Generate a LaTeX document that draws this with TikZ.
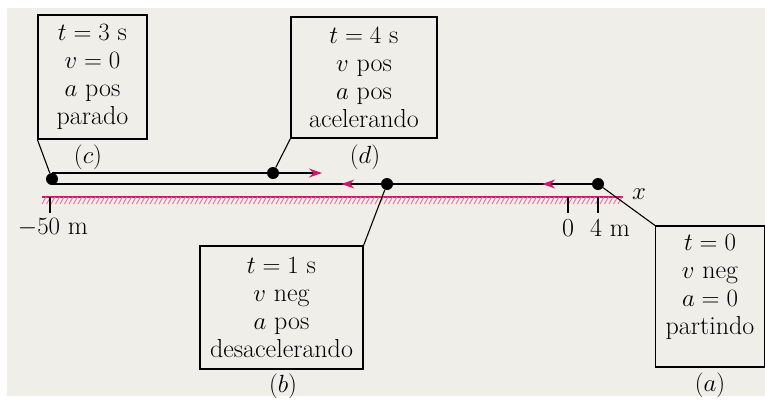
\documentclass[tikz,border=0pt]{standalone}
\usepackage{amsmath}
\usepackage{xcolor}
\usepackage{tikz}
\usetikzlibrary{positioning, arrows.meta, decorations.markings}

\definecolor{panelbg}{RGB}{240,238,232}
\definecolor{axismag}{RGB}{206,24,112}
\definecolor{hatchmag}{RGB}{232,112,162}

\tikzset{
  infobox/.style={draw, line width=1.2pt, align=center, inner sep=0pt},
  particle/.style={circle, fill=black, inner sep=0pt, minimum size=12pt},
  track/.style={line width=1.1pt},
  lead/.style={line width=1.1pt},
  magtip/.style={-{Stealth[color=axismag, length=13pt, width=9pt]}},
  midtip/.style={postaction={decorate, decoration={markings,
      mark=at position #1 with {\arrow{Stealth[color=axismag, length=13pt, width=9pt]}}}}},
}

\begin{document}
\begin{tikzpicture}[x=1pt, y=-1pt, font=\fontsize{26}{28}\selectfont]
\useasboundingbox (0,0) rectangle (765,410);
\fill[white] (0,0) rectangle (765,410);
\fill[panelbg] (7,8) rectangle (765,396);

% boxes
\node[infobox, minimum width=109pt, minimum height=124pt] (boxc) at (92.5,77) {$t=3$ s\\ $v=0$\\ $a$ pos\\ parado};
\node[infobox, minimum width=146pt, minimum height=121pt] (boxd) at (364,77.5) {$t=4$ s\\ $v$ pos\\ $a$ pos\\ acelerando};
\node[infobox, minimum width=163pt, minimum height=123pt] (boxb) at (281.5,307.5) {$t=1$ s\\ $v$ neg\\ $a$ pos\\ desacelerando};
\node[infobox, minimum width=109pt, minimum height=141pt, text depth=24pt] (boxa) at (710,296.5) {$t=0$\\ $v$ neg\\ $a=0$\\ partindo};

\node (labc) at (88,157) {$(c)$};
\node (labd) at (365,157) {$(d)$};
\node (labb) at (283,386) {$(b)$};
\node (laba) at (710,385) {$(a)$};

% axis
\draw[axismag, line width=1.2pt] (42,197) -- (623,197);
\foreach \hx in {42,46.5,...,618}
  \draw[hatchmag, line width=0.9pt] (\hx,204) -- ++(4,-7);
\draw[line width=1.1pt] (50,197) -- (50,213);
\draw[line width=1.1pt] (568,197) -- (568,213);
\draw[line width=1.1pt] (598,197) -- (598,213);
\node (lmin) at (53,228) {$-50$ m};
\node (lzero) at (568,228) {0};
\node (lfour) at (610,228) {4 m};
\node (xlab) at (639,194) {$x$};

% particle positions
\node[particle] (dotc) at (52,179) {};
\node[particle] (dotd) at (273,173) {};
\node[particle] (dotb) at (387,184) {};
\node[particle] (dota) at (598,184) {};

\coordinate (upend) at (322,173);
\draw[track, magtip] (dotc |- dotd) -- (upend);
\draw[track, midtip=0.25] (dota) -- (dotb);
\draw[track, midtip=0.12] (dotb) -- (dotc |- dotb);

% leaders
\draw[lead] (boxc.south west) -- (dotc);
\draw[lead] (boxd.south west) -- (dotd);
\draw[lead] (boxb.north east) -- (dotb);
\draw[lead] (boxa.north west) -- (dota);
\end{tikzpicture}
\end{document}
